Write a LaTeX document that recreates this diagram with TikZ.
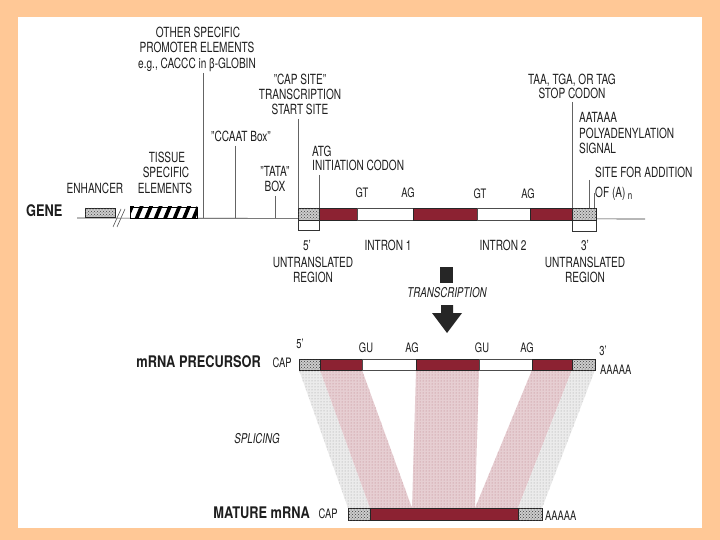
\documentclass[tikz,border=0pt]{standalone}
\usepackage{fontspec}
\setmainfont{TeX Gyre Heros}[FakeStretch=0.72]
\newfontfamily\boldfont{TeX Gyre Heros}[FakeStretch=0.8]
\usetikzlibrary{patterns}

\definecolor{peach}{RGB}{255,200,150}
\definecolor{maroon}{RGB}{140,34,50}
\definecolor{ink}{RGB}{30,30,30}
\definecolor{vline}{RGB}{100,100,100}

\tikzset{
  lbl/.style={inner sep=0pt, anchor=base, font=\fontsize{14}{15}\selectfont, text=ink},
  lbll/.style={lbl, anchor=base west},
  small/.style={inner sep=0pt, anchor=base, font=\fontsize{13}{14}\selectfont, text=ink},
  ital/.style={inner sep=0pt, anchor=base, font=\itshape\fontsize{13.5}{15}\selectfont, text=ink},
  big/.style={inner sep=0pt, font=\boldfont\bfseries\fontsize{16}{18}\selectfont, text=ink},
  pointer/.style={draw=vline, line width=0.6pt},
  exon/.style={fill=maroon, draw=black!85, line width=0.6pt},
  intron/.style={fill=white, draw=black!70, line width=0.5pt},
  utr/.style={fill=gray!40, draw=black!85, line width=0.6pt, postaction={pattern=crosshatch dots, pattern color=black!75}},
  exband/.style={fill=maroon!22, postaction={pattern=dots, pattern color=maroon!60}},
  utrband/.style={fill=gray!16, postaction={pattern=dots, pattern color=gray!80}},
}

\begin{document}
\begin{tikzpicture}[x=1pt, y=-1pt]
\useasboundingbox (0,0) rectangle (720,540);
\fill[peach] (0,0) rectangle (720,540);
\fill[white] (18,17) rectangle (702,528);

% ---------------- GENE ----------------
\coordinate (gL) at (77,218);
\coordinate (gR) at (645,219);
\draw[black!80, line width=0.6pt] (gL) -- (gR);

% enhancer
\draw[utr] (85,208) rectangle (115,217);
% break marks
\draw[black!80, line width=0.5pt] (113,227) -- (121,209);
\draw[black!80, line width=0.5pt] (117,227) -- (125,209);
% tissue specific hatched box
\begin{scope}
  \clip (130,207) rectangle (197,218);
  \fill[white] (130,207) rectangle (197,218);
  \foreach \x in {126,135.5,...,206}
    \draw[black, line width=3.6pt] (\x,221) -- (\x+7,204);
\end{scope}
\draw[black, line width=0.7pt] (130,207) rectangle (197,218);

% gene bar
\draw[utr] (298,208) rectangle (319,220);
\draw[exon] (319,208) rectangle (357,220);
\draw[intron] (357,208) rectangle (413,220);
\draw[exon] (413,208) rectangle (477,220);
\draw[intron] (477,208) rectangle (530,220);
\draw[exon] (530,208) rectangle (572,220);
\draw[utr] (572,208) rectangle (596,220);

% brackets
\draw[black!80, line width=0.5pt] (298,220) -- (298,230) -- (319,230) -- (319,220);
\draw[black!80, line width=0.5pt] (572,221) -- (572,231) -- (596,231) -- (596,221);

% labels top-left
\node[lbl] (osp1) at (198,38) {OTHER SPECIFIC};
\node[lbl] (osp2) at (197,53) {PROMOTER ELEMENTS};
\node[lbl] (osp3) at (197,69) {e.g., CACCC in β-GLOBIN};
\node[lbl] (cap1) at (300,85) {"CAP SITE"};
\node[lbl] (cap2) at (300,100) {TRANSCRIPTION};
\node[lbl] (cap3) at (300,115) {START SITE};
\node[lbl] (ccaat) at (241,142) {"CCAAT Box"};
\node[lbll] (atg1) at (312,157) {ATG};
\node[lbll] (atg2) at (312,171) {INITIATION CODON};
\node[lbl] (tis1) at (167,163) {TISSUE};
\node[lbl] (tis2) at (166,178) {SPECIFIC};
\node[lbl] (tis3) at (165,194) {ELEMENTS};
\node[lbl] (enh) at (95,194) {ENHANCER};
\node[lbl] (tata1) at (275,177) {"TATA"};
\node[lbl] (tata2) at (275,192) {BOX};
\node[big, anchor=base west] (gene) at (26,217) {GENE};

% labels top-right
\node[lbl] (stop1) at (572,85) {TAA, TGA, OR TAG};
\node[lbl] (stop2) at (572,99) {STOP CODON};
\node[lbll] (poly1) at (579,123) {AATAAA};
\node[lbll] (poly2) at (579,139) {POLYADENYLATION};
\node[lbll] (poly3) at (579,154) {SIGNAL};
\node[lbll] (site1) at (595,178) {SITE FOR ADDITION};
\node[lbll] (site2) at (595,197) {OF (A)\,\raisebox{-2pt}{\fontsize{11}{12}\selectfont n}};

% pointer lines
\coordinate (pOsp) at (203,73);   \coordinate (bOsp) at (203,218);
\coordinate (pCca) at (235,146);  \coordinate (bCca) at (235,218);
\coordinate (pTat) at (275,196);  \coordinate (bTat) at (275,218);
\coordinate (pCap) at (298,119);  \coordinate (bCap) at (298,208);
\coordinate (pAtg) at (319,175);  \coordinate (bAtg) at (319,208);
\coordinate (pStp) at (572,102);  \coordinate (bStp) at (572,208);
\coordinate (pPol) at (589,180);  \coordinate (bPol) at (589,208);
\coordinate (pSit) at (594,193);  \coordinate (bSit) at (594,208);
\foreach \a/\b in {pOsp/bOsp,pCca/bCca,pTat/bTat,pCap/bCap,pAtg/bAtg,pStp/bStp,pPol/bPol,pSit/bSit}
  \draw[pointer] (\a) -- (\b);

% splice site labels on gene
\node[small] (gt1) at (362,197) {GT};
\node[small] (ag1) at (408,198) {AG};
\node[small] (gt2) at (480,199) {GT};
\node[small] (ag2) at (528,199) {AG};

% labels below gene
\node[lbl] (p5) at (307,250) {5'};
\node[lbl] (utr5a) at (313,267) {UNTRANSLATED};
\node[lbl] (utr5b) at (313,282) {REGION};
\node[lbl] (in1) at (388,250) {INTRON 1};
\node[lbl] (in2) at (503,250) {INTRON 2};
\node[lbl] (p3) at (585,250) {3'};
\node[lbl] (utr3a) at (585,267) {UNTRANSLATED};
\node[lbl] (utr3b) at (585,282) {REGION};

% transcription arrow
\fill[black!85] (440,267) rectangle (453,283);
\node[ital] (tr) at (447,297) {TRANSCRIPTION};
\fill[black!85] (441,305) -- (453,305) -- (453,313) -- (462,313) -- (447,333) -- (432,313) -- (441,313) -- cycle;

% ---------------- splicing bands ----------------
\fill[utrband] (299,370) -- (320,370) -- (370,508) -- (348,508) -- cycle;
\fill[exband] (320,370) -- (362,370) -- (412,508) -- (370,508) -- cycle;
\fill[exband] (416,370) -- (479,370) -- (475,508) -- (412,508) -- cycle;
\fill[exband] (532,370) -- (572,370) -- (518,508) -- (475,508) -- cycle;
\fill[utrband] (572,370) -- (595,370) -- (542,508) -- (518,508) -- cycle;

% ---------------- mRNA precursor ----------------
\draw[utr] (299,359) rectangle (320,370);
\draw[exon] (320,359) rectangle (362,370);
\draw[intron] (362,359) rectangle (416,370);
\draw[exon] (416,359) rectangle (479,370);
\draw[intron] (479,359) rectangle (532,370);
\draw[exon] (532,359) rectangle (572,370);
\draw[utr] (572,359) rectangle (595,370);

\node[big, anchor=base east] (prec) at (261,367) {mRNA PRECURSOR};
\node[small] (capA) at (282,367) {CAP};
\node[small] (m5) at (300,348) {5'};
\node[small] (gu1) at (366,352) {GU};
\node[small] (ag3) at (412,352) {AG};
\node[small] (gu2) at (482,352) {GU};
\node[small] (ag4) at (527,352) {AG};
\node[small] (m3) at (603,355) {3'};
\node[small, anchor=base west] (polyA1) at (600,374) {AAAAA};

\node[ital] (spl) at (257,443) {SPLICING};

% ---------------- mature mRNA ----------------
\draw[utr] (348,508) rectangle (370,520);
\draw[exon] (370,508) rectangle (518,520);
\draw[utr] (518,508) rectangle (542,520);

\node[big, anchor=base east] (mat) at (310,518) {MATURE mRNA};
\node[small] (capB) at (328,518) {CAP};
\node[small, anchor=base west] (polyA2) at (545,520) {AAAAA};
\end{tikzpicture}
\end{document}
